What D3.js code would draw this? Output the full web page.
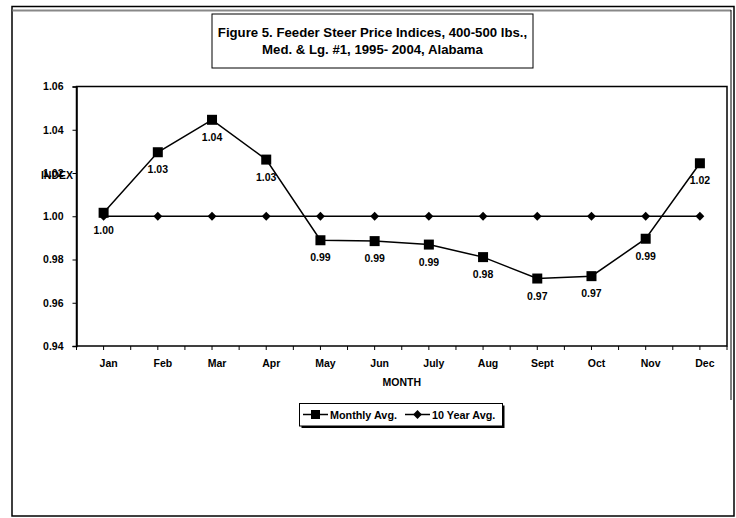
<!DOCTYPE html>
<html>
<head>
<meta charset="utf-8">
<script src="https://cdn.jsdelivr.net/npm/d3@7"></script>
<style>
  body { margin: 0; background: #fff; }
  svg { display: block; }
  text { font-family: Arial, "Liberation Sans", sans-serif; font-weight: bold; fill: #000; }
</style>
</head>
<body>
<div id="chart"></div>
<script>
// Chart size
const width = 736;
const height = 518;
const margin = { top: 86.5, right: 9, bottom: 172, left: 76.5 };

// Data
const months = ["Jan", "Feb", "Mar", "Apr", "May", "Jun", "July", "Aug", "Sept", "Oct", "Nov", "Dec"];
const monthlyAvg = [1.0016, 1.0296, 1.0446, 1.0262, 0.9889, 0.9885, 0.9869, 0.9811, 0.9712, 0.9723, 0.9896, 1.0245];
const tenYearAvg = [1, 1, 1, 1, 1, 1, 1, 1, 1, 1, 1, 1];
const yTicks = [0.94, 0.96, 0.98, 1.00, 1.02, 1.04, 1.06];
const titleLines = ["Figure 5. Feeder Steer Price Indices, 400-500 lbs.,", "Med. & Lg. #1, 1995- 2004, Alabama"];
const seriesNames = ["Monthly Avg.", "10 Year Avg."];

const svg = d3.select("#chart")
    .append("svg")
    .attr("width", width)
    .attr("height", height)
    .attr("viewBox", `0 0 ${width} ${height}`);

// Outer frame
svg.append("rect")
    .attr("x", 12).attr("y", 6.5)
    .attr("width", 722).attr("height", 509.5)
    .attr("fill", "none").attr("stroke", "#000").attr("stroke-width", 1.5);
svg.append("line")
    .attr("x1", 12.5).attr("x2", 731).attr("y1", 10.5).attr("y2", 10.5)
    .attr("stroke", "#888").attr("stroke-width", 2);
svg.append("line")
    .attr("x1", 731).attr("x2", 731).attr("y1", 10).attr("y2", 400)
    .attr("stroke", "#000").attr("stroke-width", 1);

// Scales
const x = d3.scaleBand()
    .domain(months)
    .range([margin.left, width - margin.right]);

const y = d3.scaleLinear()
    .domain([0.94, 1.06])
    .range([height - margin.bottom, margin.top]);

const cx = d => x(d) + x.bandwidth() / 2;

// Plot area border
svg.append("rect")
    .attr("x", margin.left).attr("y", margin.top)
    .attr("width", width - margin.right - margin.left)
    .attr("height", height - margin.bottom - margin.top)
    .attr("fill", "none").attr("stroke", "#000").attr("stroke-width", 1.5);

// Y axis
const yAxis = svg.append("g")
    .attr("transform", `translate(${margin.left},0)`)
    .call(d3.axisLeft(y).tickValues(yTicks).tickSize(4).tickPadding(9).tickFormat(d3.format(".2f")));
yAxis.select(".domain").attr("stroke-width", 1.5);
yAxis.selectAll("text").style("font-size", "10.5px").style("font-family", "Arial, 'Liberation Sans', sans-serif").style("font-weight", "bold");

// X axis: ticks at category centres and boundaries
const xTickPos = [];
months.forEach(m => { xTickPos.push(x(m)); xTickPos.push(cx(m)); });
xTickPos.push(width - margin.right);
svg.append("g")
    .selectAll("line")
    .data(xTickPos)
    .join("line")
    .attr("x1", d => d).attr("x2", d => d)
    .attr("y1", height - margin.bottom).attr("y2", height - margin.bottom + 4)
    .attr("stroke", "#000").attr("stroke-width", 1);

svg.append("g")
    .selectAll("text")
    .data(months)
    .join("text")
    .attr("x", d => cx(d) + 5)
    .attr("y", height - margin.bottom + 21)
    .attr("text-anchor", "middle")
    .style("font-size", "10.5px")
    .text(d => d);

// Axis titles
svg.append("text")
    .attr("x", (margin.left + width - margin.right) / 2)
    .attr("y", 385.5)
    .attr("text-anchor", "middle")
    .style("font-size", "10.5px")
    .text("MONTH");

svg.append("text")
    .attr("x", 73)
    .attr("y", 178.5)
    .attr("text-anchor", "end")
    .style("font-size", "10.5px")
    .text("INDEX");

// Lines
const line = d3.line()
    .x((d, i) => cx(months[i]))
    .y(d => y(d));

svg.append("path")
    .datum(monthlyAvg)
    .attr("fill", "none").attr("stroke", "#000").attr("stroke-width", 1.5)
    .attr("d", line);

svg.append("g")
    .selectAll("rect")
    .data(monthlyAvg)
    .join("rect")
    .attr("x", (d, i) => cx(months[i]) - 5)
    .attr("y", d => y(d) - 5)
    .attr("width", 10).attr("height", 10)
    .attr("fill", "#000");

svg.append("path")
    .datum(tenYearAvg)
    .attr("fill", "none").attr("stroke", "#000").attr("stroke-width", 1.5)
    .attr("d", line);

const diamond = d3.symbol().type(d3.symbolDiamond2).size(50);
svg.append("g")
    .selectAll("path")
    .data(tenYearAvg)
    .join("path")
    .attr("transform", (d, i) => `translate(${cx(months[i])},${y(d)})`)
    .attr("d", diamond)
    .attr("fill", "#000");

// Data labels under the monthly points
svg.append("g")
    .selectAll("text")
    .data(monthlyAvg)
    .join("text")
    .attr("x", (d, i) => cx(months[i]))
    .attr("y", d => y(d) + 21)
    .attr("text-anchor", "middle")
    .style("font-size", "10.5px")
    .text(d => d3.format(".2f")(d));

// Title box
svg.append("rect")
    .attr("x", 212).attr("y", 14)
    .attr("width", 321).attr("height", 54)
    .attr("fill", "#fff").attr("stroke", "#000").attr("stroke-width", 1);

svg.append("g")
    .selectAll("text")
    .data(titleLines)
    .join("text")
    .attr("x", 372.5)
    .attr("y", (d, i) => 36.5 + i * 17.5)
    .attr("text-anchor", "middle")
    .style("font-size", "13.2px")
    .text(d => d);

// Legend
const legend = svg.append("g");
legend.append("rect")
    .attr("x", 301.5).attr("y", 405.5)
    .attr("width", 203).attr("height", 22.5)
    .attr("fill", "#000");
legend.append("rect")
    .attr("x", 299.5).attr("y", 403.5)
    .attr("width", 203).attr("height", 22.5)
    .attr("fill", "#fff").attr("stroke", "#000").attr("stroke-width", 1);

const legendY = 414.5;
const legendItems = [
    { name: seriesNames[0], x0: 303, x1: 328, tx: 330 },
    { name: seriesNames[1], x0: 405, x1: 430, tx: 432 }
];
legend.selectAll("line.key")
    .data(legendItems)
    .join("line")
    .attr("class", "key")
    .attr("x1", d => d.x0).attr("x2", d => d.x1)
    .attr("y1", legendY).attr("y2", legendY)
    .attr("stroke", "#000").attr("stroke-width", 1.5);
legend.append("rect")
    .attr("x", (legendItems[0].x0 + legendItems[0].x1) / 2 - 4.5)
    .attr("y", legendY - 4.5)
    .attr("width", 9).attr("height", 9)
    .attr("fill", "#000");
legend.append("path")
    .attr("transform", `translate(${(legendItems[1].x0 + legendItems[1].x1) / 2},${legendY})`)
    .attr("d", diamond)
    .attr("fill", "#000");
legend.selectAll("text")
    .data(legendItems)
    .join("text")
    .attr("x", d => d.tx)
    .attr("y", legendY + 4)
    .style("font-size", "10.8px")
    .text(d => d.name);
</script>
</body>
</html>
